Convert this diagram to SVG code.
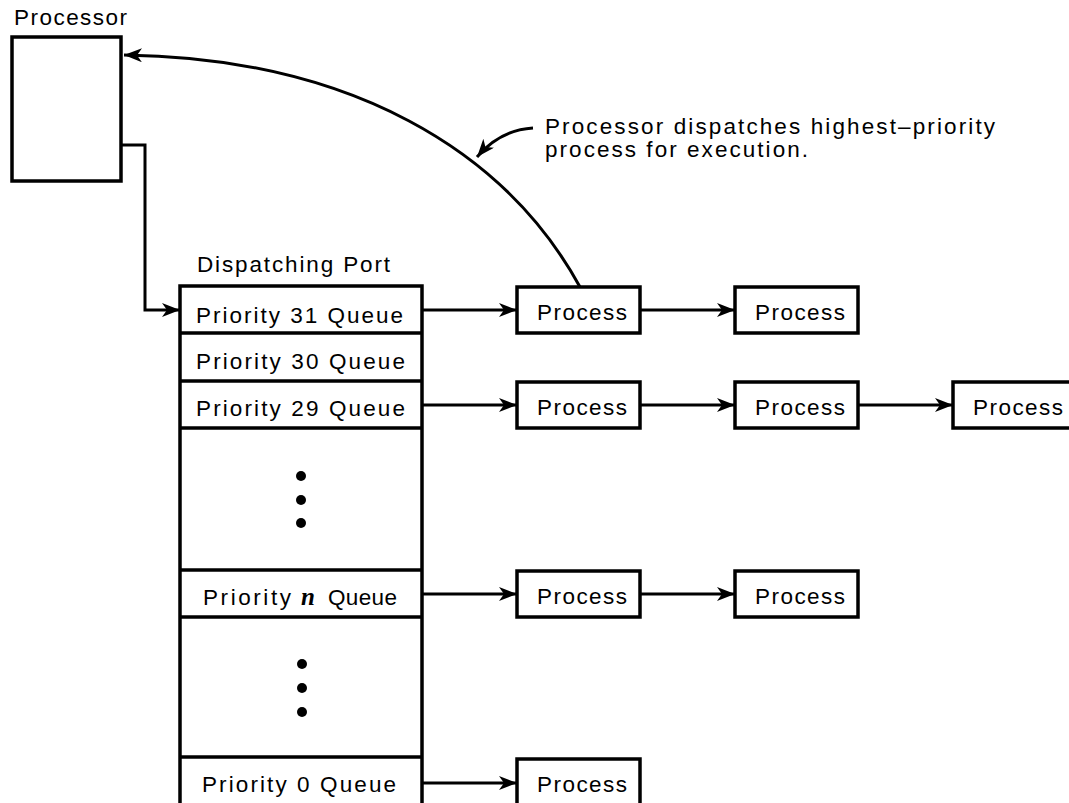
<svg xmlns="http://www.w3.org/2000/svg" width="1069" height="803" viewBox="0 0 1069 803">
  <style>
    text { font-family: "Liberation Sans", Arial, sans-serif; font-size: 22.5px; fill: #000; }
    .box { fill: #fff; stroke: #000; stroke-width: 3.5; }
    .sep { stroke: #000; stroke-width: 3.5; }
    .arrow { fill: none; stroke: #000; stroke-width: 3; marker-end: url(#head); }
    .var { font-family: "Liberation Serif", "Times New Roman", serif; font-style: italic; font-weight: bold; font-size: 25px; }
  </style>
  <defs>
    <marker id="head" markerUnits="userSpaceOnUse" markerWidth="20" markerHeight="16" refX="18" refY="7" orient="auto">
      <path d="M0,0 L18,7 L0,14 L5,7 Z" fill="#000"/>
    </marker>
  </defs>

  <rect width="1069" height="803" fill="#fff"/>

  <!-- Processor -->
  <g id="processor">
    <text x="14" y="25" textLength="113" lengthAdjust="spacing">Processor</text>
    <rect class="box" x="12" y="37" width="109" height="144"/>
  </g>

  <!-- Dispatching port with its priority queues -->
  <g id="dispatching-port">
    <text x="197" y="272" textLength="193" lengthAdjust="spacing">Dispatching Port</text>
    <rect class="box" x="180" y="286" width="242" height="540"/>
    <line class="sep" x1="180" y1="333" x2="422" y2="333"/>
    <line class="sep" x1="180" y1="381" x2="422" y2="381"/>
    <line class="sep" x1="180" y1="428" x2="422" y2="428"/>
    <line class="sep" x1="180" y1="570" x2="422" y2="570"/>
    <line class="sep" x1="180" y1="617" x2="422" y2="617"/>
    <line class="sep" x1="180" y1="757" x2="422" y2="757"/>
    <text x="196" y="323" textLength="207" lengthAdjust="spacing">Priority 31 Queue</text>
    <text x="196" y="369" textLength="209" lengthAdjust="spacing">Priority 30 Queue</text>
    <text x="196" y="416" textLength="209" lengthAdjust="spacing">Priority 29 Queue</text>
    <circle cx="301" cy="476" r="5"/>
    <circle cx="301" cy="500" r="5"/>
    <circle cx="301" cy="523" r="5"/>
    <text x="203" y="605" textLength="88" lengthAdjust="spacing">Priority</text>
    <text class="var" x="301" y="605">n</text>
    <text x="328" y="605" textLength="69" lengthAdjust="spacing">Queue</text>
    <circle cx="302" cy="664" r="5"/>
    <circle cx="302" cy="688" r="5"/>
    <circle cx="302" cy="712" r="5"/>
    <text x="202" y="792" textLength="194" lengthAdjust="spacing">Priority 0 Queue</text>
  </g>

  <!-- Process queues -->
  <g id="p31-1"><rect class="box" x="517" y="287" width="123" height="46"/><text x="537" y="320" textLength="90" lengthAdjust="spacing">Process</text></g>
  <g id="p31-2"><rect class="box" x="735" y="287" width="123" height="46"/><text x="755" y="320" textLength="90" lengthAdjust="spacing">Process</text></g>
  <g id="p29-1"><rect class="box" x="517" y="382" width="123" height="46"/><text x="537" y="415" textLength="90" lengthAdjust="spacing">Process</text></g>
  <g id="p29-2"><rect class="box" x="735" y="382" width="123" height="46"/><text x="755" y="415" textLength="90" lengthAdjust="spacing">Process</text></g>
  <g id="p29-3"><rect class="box" x="953" y="382" width="123" height="46"/><text x="973" y="415" textLength="90" lengthAdjust="spacing">Process</text></g>
  <g id="pn-1"><rect class="box" x="517" y="571" width="123" height="46"/><text x="537" y="604" textLength="90" lengthAdjust="spacing">Process</text></g>
  <g id="pn-2"><rect class="box" x="735" y="571" width="123" height="46"/><text x="755" y="604" textLength="90" lengthAdjust="spacing">Process</text></g>
  <g id="p0-1"><rect class="box" x="517" y="759" width="123" height="46"/><text x="537" y="792" textLength="90" lengthAdjust="spacing">Process</text></g>

  <!-- Annotation -->
  <g id="note">
    <text x="545" y="134" textLength="450" lengthAdjust="spacing">Processor dispatches highest–priority</text>
    <text x="545" y="157" textLength="263" lengthAdjust="spacing">process for execution.</text>
  </g>

  <!-- Connectors -->
  <g id="connectors">
    <path class="arrow" d="M121,145 H145 V310 H180"/>
    <path class="arrow" d="M580,287 C505,150 350,58 124,55"/>
    <path class="arrow" d="M533,128 Q500,130 477,157"/>
    <line class="arrow" x1="422" y1="310" x2="517" y2="310"/>
    <line class="arrow" x1="640" y1="310" x2="735" y2="310"/>
    <line class="arrow" x1="422" y1="405" x2="517" y2="405"/>
    <line class="arrow" x1="640" y1="405" x2="735" y2="405"/>
    <line class="arrow" x1="858" y1="405" x2="953" y2="405"/>
    <line class="arrow" x1="422" y1="594" x2="517" y2="594"/>
    <line class="arrow" x1="640" y1="594" x2="735" y2="594"/>
    <line class="arrow" x1="422" y1="783" x2="517" y2="783"/>
  </g>
</svg>
